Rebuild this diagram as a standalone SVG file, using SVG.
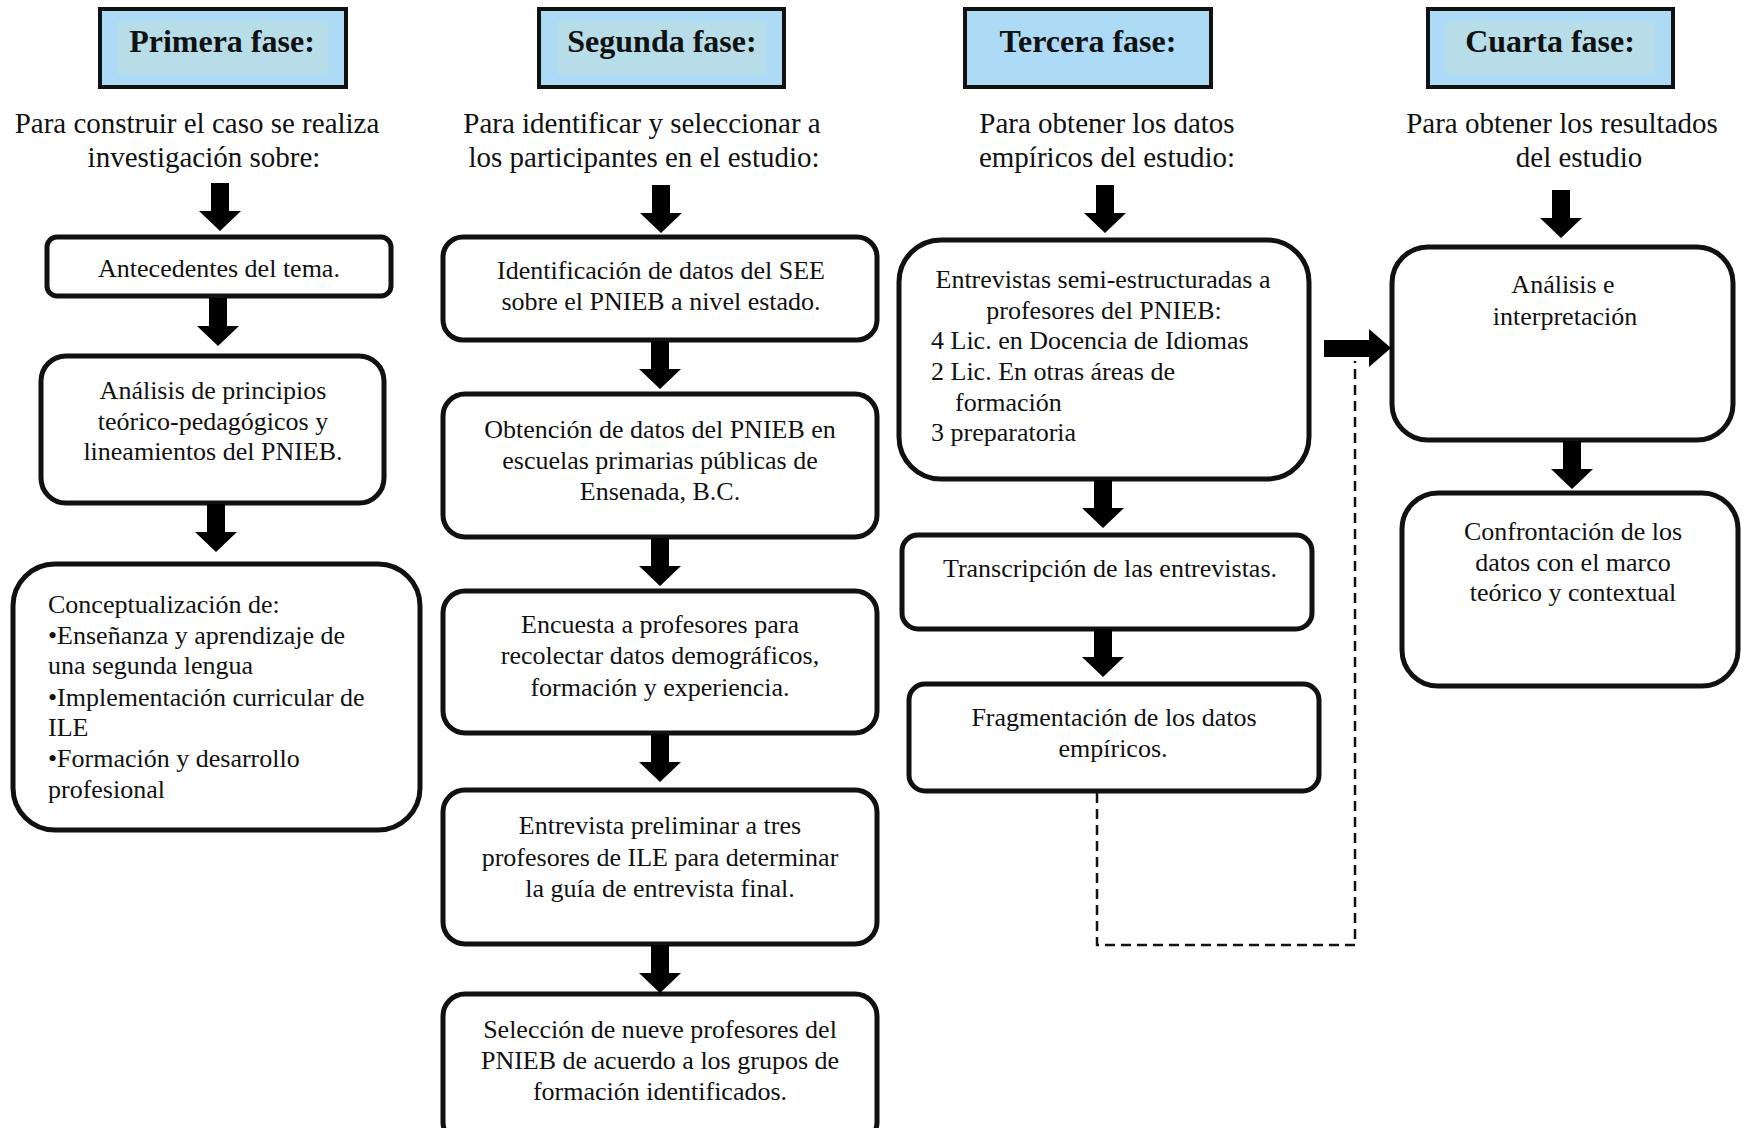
<svg xmlns="http://www.w3.org/2000/svg" xmlns:xlink="http://www.w3.org/1999/xlink" width="1742" height="1128" viewBox="0 0 1742 1128">
  <style>
    .hdr { fill: #addbf6; stroke: #111; stroke-width: 4; }
    .hdr-in { fill: #b6dde8; }
    .hdr-t { font-family: "Liberation Serif", "Times New Roman", serif; font-weight: bold; font-size: 32px; fill: #111; text-anchor: middle; }
    .sub { font-family: "Liberation Serif", "Times New Roman", serif; font-size: 29px; fill: #111; text-anchor: middle; }
    .box { fill: #fff; stroke: #111; stroke-width: 5; }
    .t { font-family: "Liberation Serif", "Times New Roman", serif; font-size: 26px; fill: #111; text-anchor: middle; }
    .tl { font-family: "Liberation Serif", "Times New Roman", serif; font-size: 26px; fill: #111; }
    .arr { fill: #000; }
    .dash { fill: none; stroke: #111; stroke-width: 2.5; stroke-dasharray: 10 6; }
  </style>
  <defs>
    <!-- block arrow pointing down, origin at top centre -->
    <path id="down" d="M-9,0 H9 V28 H21 L0,48 L-21,28 H-9 Z"/>
  </defs>
  <rect width="1742" height="1128" fill="#fff"/>

  <!-- phase headers -->
  <g id="h1">
    <rect class="hdr" x="100" y="9" width="246" height="78"/>
    <rect class="hdr-in" x="117" y="22" width="211" height="52"/>
    <text class="hdr-t" x="222" y="52">Primera fase:</text>
  </g>
  <g id="h2">
    <rect class="hdr" x="539" y="9" width="245" height="78"/>
    <rect class="hdr-in" x="557" y="22" width="209" height="52"/>
    <text class="hdr-t" x="662" y="52">Segunda fase:</text>
  </g>
  <g id="h3">
    <rect class="hdr" x="965" y="9" width="246" height="78"/>
    <text class="hdr-t" x="1088" y="52">Tercera fase:</text>
  </g>
  <g id="h4">
    <rect class="hdr" x="1428" y="9" width="245" height="78"/>
    <rect class="hdr-in" x="1446" y="22" width="209" height="52"/>
    <text class="hdr-t" x="1550" y="52">Cuarta fase:</text>
  </g>

  <!-- phase descriptions -->
  <g id="s1">
    <text class="sub" x="197" y="133">Para construir el caso se realiza</text>
    <text class="sub" x="204" y="167">investigación sobre:</text>
  </g>
  <g id="s2">
    <text class="sub" x="642" y="133">Para identificar y seleccionar a</text>
    <text class="sub" x="644" y="167">los participantes en el estudio:</text>
  </g>
  <g id="s3">
    <text class="sub" x="1107" y="133">Para obtener los datos</text>
    <text class="sub" x="1107" y="167">empíricos del estudio:</text>
  </g>
  <g id="s4">
    <text class="sub" x="1562" y="133">Para obtener los resultados</text>
    <text class="sub" x="1579" y="167">del estudio</text>
  </g>

  <!-- first phase -->
  <g id="n1a">
    <rect class="box" x="47" y="237" width="344" height="59" rx="10"/>
    <text class="t" x="219" y="277">Antecedentes del tema.</text>
  </g>
  <g id="n1b">
    <rect class="box" x="41" y="356" width="343" height="147" rx="25"/>
    <text class="t" x="213" y="399">Análisis de principios</text>
    <text class="t" x="213" y="430">teórico-pedagógicos y</text>
    <text class="t" x="213" y="460">lineamientos del PNIEB.</text>
  </g>
  <g id="n1c">
    <rect class="box" x="13" y="564" width="407" height="266" rx="42"/>
    <text class="tl" x="48" y="613">Conceptualización de:</text>
    <text class="tl" x="48" y="644">•Enseñanza y aprendizaje de</text>
    <text class="tl" x="48" y="674">una segunda lengua</text>
    <text class="tl" x="48" y="706">•Implementación curricular de</text>
    <text class="tl" x="48" y="736">ILE</text>
    <text class="tl" x="48" y="767">•Formación y desarrollo</text>
    <text class="tl" x="48" y="798">profesional</text>
  </g>

  <!-- second phase -->
  <g id="n2a">
    <rect class="box" x="443" y="237" width="434" height="103" rx="20"/>
    <text class="t" x="661" y="279">Identificación de datos del SEE</text>
    <text class="t" x="661" y="310">sobre el PNIEB a nivel estado.</text>
  </g>
  <g id="n2b">
    <rect class="box" x="443" y="394" width="434" height="143" rx="22"/>
    <text class="t" x="660" y="438">Obtención de datos del PNIEB en</text>
    <text class="t" x="660" y="469">escuelas primarias públicas de</text>
    <text class="t" x="660" y="500">Ensenada, B.C.</text>
  </g>
  <g id="n2c">
    <rect class="box" x="443" y="591" width="434" height="142" rx="22"/>
    <text class="t" x="660" y="633">Encuesta a profesores para</text>
    <text class="t" x="660" y="664">recolectar datos demográficos,</text>
    <text class="t" x="660" y="696">formación y experiencia.</text>
  </g>
  <g id="n2d">
    <rect class="box" x="443" y="790" width="434" height="154" rx="22"/>
    <text class="t" x="660" y="834">Entrevista preliminar a tres</text>
    <text class="t" x="660" y="866">profesores de ILE para determinar</text>
    <text class="t" x="660" y="897">la guía de entrevista final.</text>
  </g>
  <g id="n2e">
    <rect class="box" x="443" y="994" width="434" height="150" rx="22"/>
    <text class="t" x="660" y="1038">Selección de nueve profesores del</text>
    <text class="t" x="660" y="1069">PNIEB de acuerdo a los grupos de</text>
    <text class="t" x="660" y="1100">formación identificados.</text>
  </g>

  <!-- third phase -->
  <g id="n3a">
    <rect class="box" x="899" y="240" width="410" height="239" rx="42"/>
    <text class="t" x="1103" y="288">Entrevistas semi-estructuradas a</text>
    <text class="t" x="1104" y="319">profesores del PNIEB:</text>
    <text class="tl" x="931" y="349">4 Lic. en Docencia de Idiomas</text>
    <text class="tl" x="931" y="380">2 Lic. En otras áreas de</text>
    <text class="tl" x="955" y="411">formación</text>
    <text class="tl" x="931" y="441">3 preparatoria</text>
  </g>
  <g id="n3b">
    <rect class="box" x="902" y="535" width="410" height="94" rx="16"/>
    <text class="t" x="1110" y="577">Transcripción de las entrevistas.</text>
  </g>
  <g id="n3c">
    <rect class="box" x="909" y="684" width="410" height="107" rx="16"/>
    <text class="t" x="1114" y="726">Fragmentación de los datos</text>
    <text class="t" x="1113" y="757">empíricos.</text>
  </g>

  <!-- fourth phase -->
  <g id="n4a">
    <rect class="box" x="1392" y="247" width="341" height="193" rx="36"/>
    <text class="t" x="1563" y="293">Análisis e</text>
    <text class="t" x="1565" y="325">interpretación</text>
  </g>
  <g id="n4b">
    <rect class="box" x="1402" y="493" width="336" height="193" rx="36"/>
    <text class="t" x="1573" y="540">Confrontación de los</text>
    <text class="t" x="1573" y="571">datos con el marco</text>
    <text class="t" x="1573" y="601">teórico y contextual</text>
  </g>

  <!-- connectors -->
  <g id="connectors">
    <use class="arr" xlink:href="#down" href="#down" x="220" y="183"/>
    <use class="arr" xlink:href="#down" href="#down" x="218" y="298"/>
    <use class="arr" xlink:href="#down" href="#down" x="216" y="504"/>

    <use class="arr" xlink:href="#down" href="#down" x="661" y="185"/>
    <use class="arr" xlink:href="#down" href="#down" x="660" y="341"/>
    <use class="arr" xlink:href="#down" href="#down" x="660" y="538"/>
    <use class="arr" xlink:href="#down" href="#down" x="660" y="734"/>
    <use class="arr" xlink:href="#down" href="#down" x="660" y="945"/>

    <use class="arr" xlink:href="#down" href="#down" x="1105" y="185"/>
    <use class="arr" xlink:href="#down" href="#down" x="1103" y="480"/>
    <use class="arr" xlink:href="#down" href="#down" x="1103" y="629"/>

    <use class="arr" xlink:href="#down" href="#down" x="1561" y="190"/>
    <use class="arr" xlink:href="#down" href="#down" x="1572" y="441"/>

    <!-- phase three feeds phase four -->
    <path class="arr" d="M1324,340 H1369 V329 L1391,348 L1369,367 V357 H1324 Z"/>
    <!-- feedback loop from fragmentation -->
    <path class="dash" d="M1097,793 V945 H1355 V361"/>
  </g>
</svg>
